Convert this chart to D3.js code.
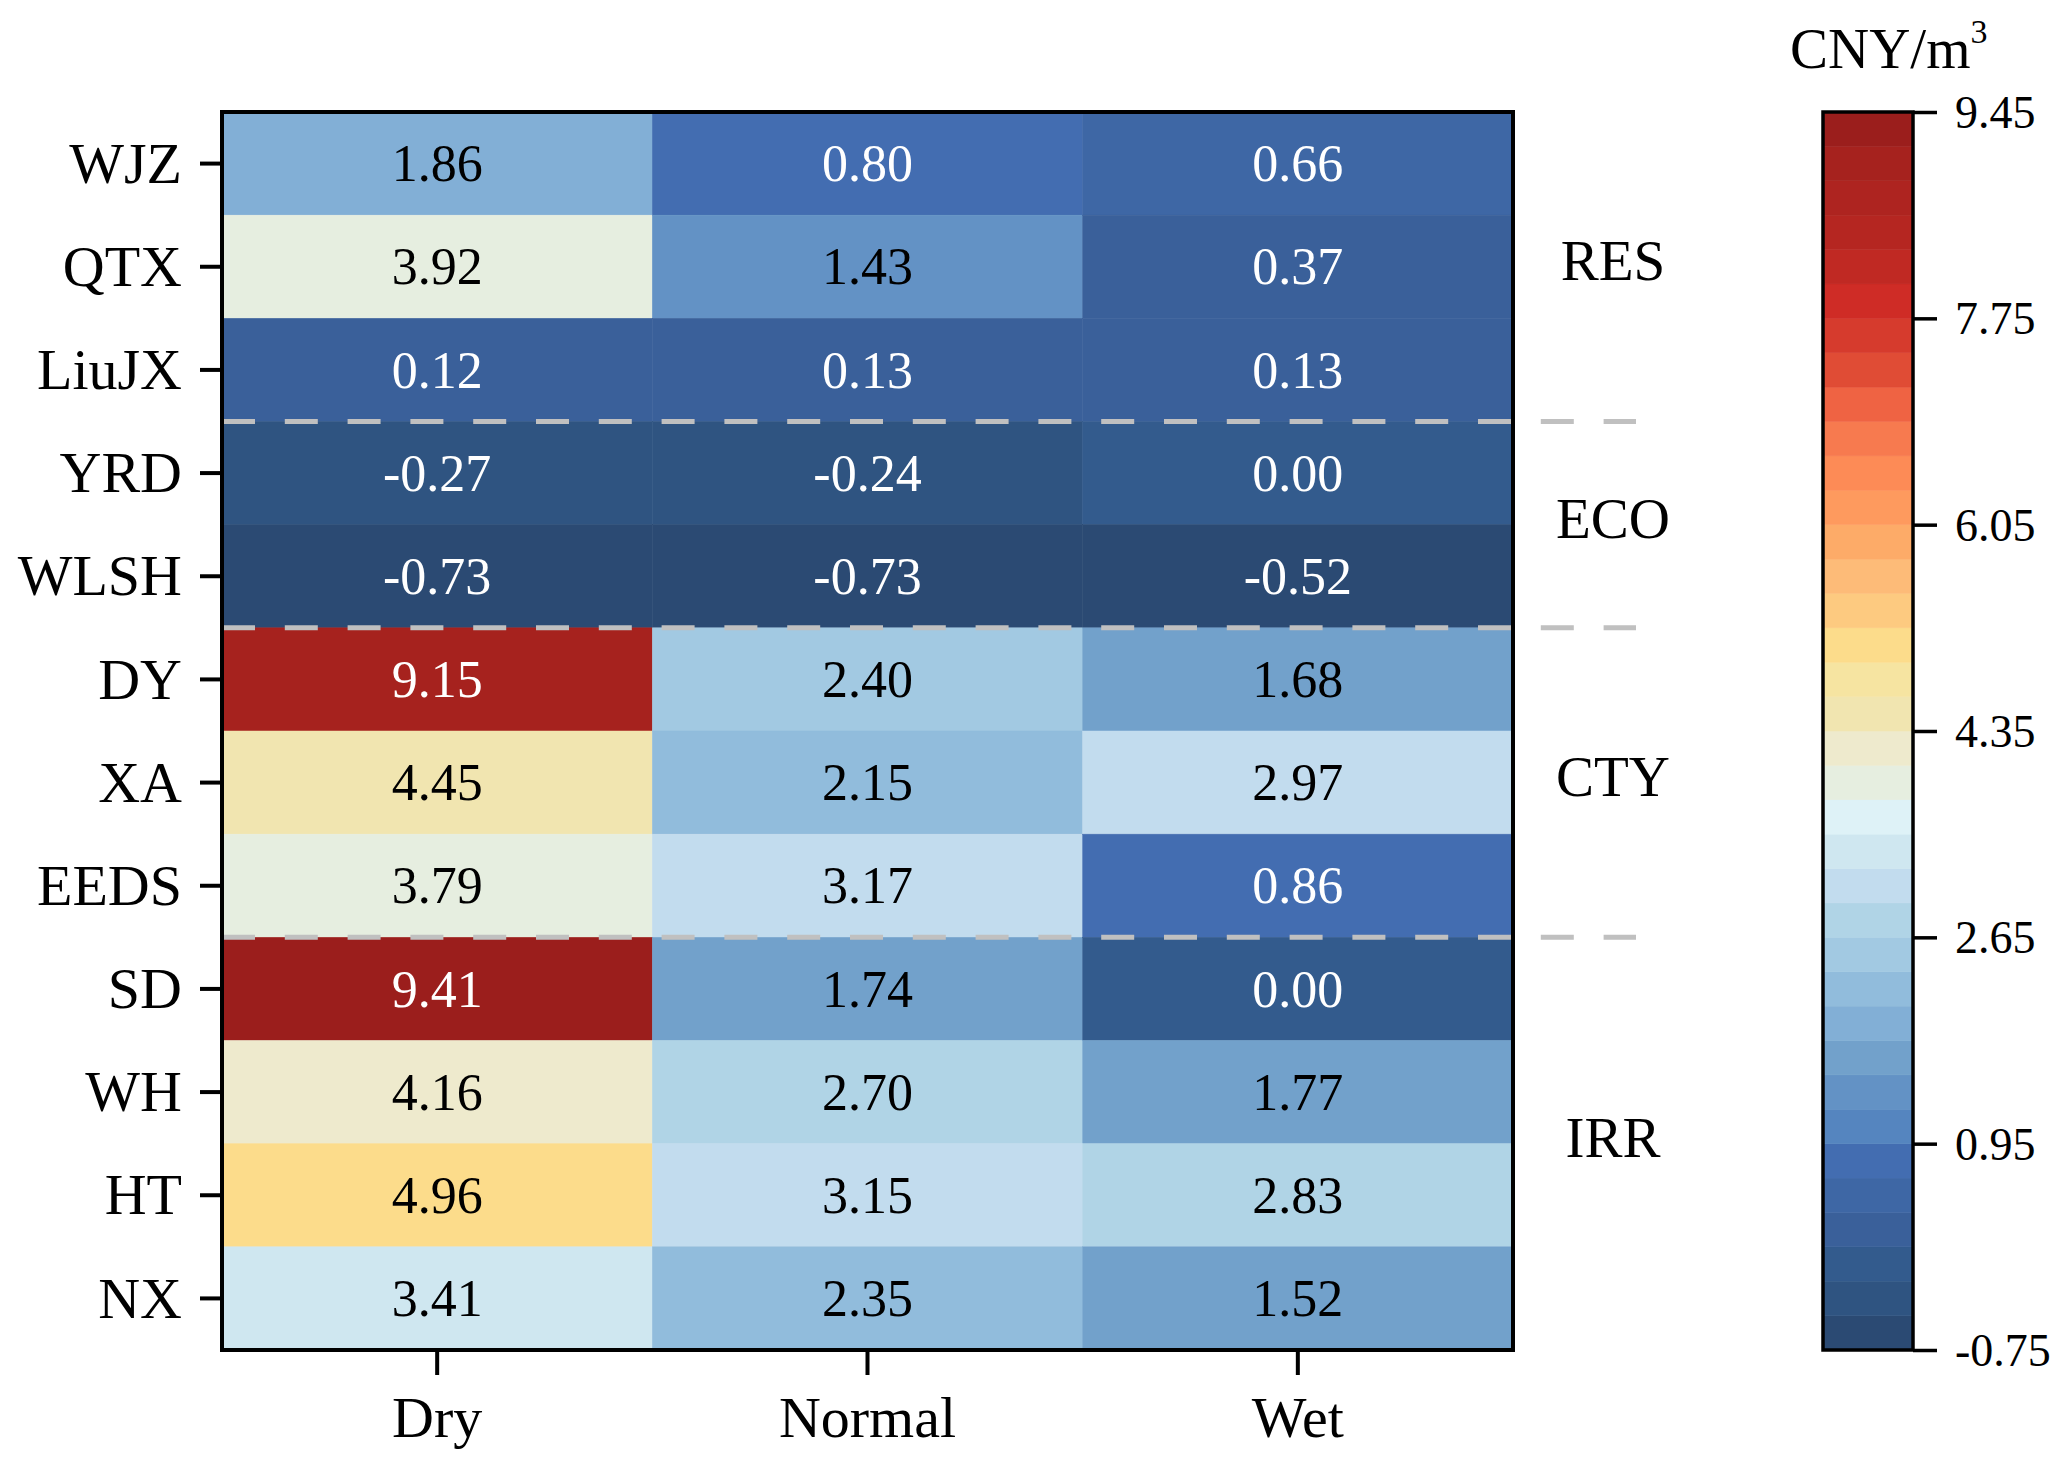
<!DOCTYPE html>
<html>
<head>
<meta charset="utf-8">
<script src="https://cdn.jsdelivr.net/npm/d3@7"></script>
<style>
  body { margin: 0; background: #fff; }
  text { font-family: "Liberation Serif", "Times New Roman", serif; }
</style>
</head>
<body>
<svg width="2067" height="1467"></svg>
<script>
const sites = ['WJZ', 'QTX', 'LiuJX', 'YRD', 'WLSH', 'DY', 'XA', 'EEDS', 'SD', 'WH', 'HT', 'NX'];
const years = ['Dry', 'Normal', 'Wet'];
const dry    = [1.86, 3.92, 0.12, -0.27, -0.73, 9.15, 4.45, 3.79, 9.41, 4.16, 4.96, 3.41];
const normal = [0.80, 1.43, 0.13, -0.24, -0.73, 2.40, 2.15, 3.17, 1.74, 2.70, 3.15, 2.35];
const wet    = [0.66, 0.37, 0.13, 0.00, -0.52, 1.68, 2.97, 0.86, 0.00, 1.77, 2.83, 1.52];
const groups = [
  { name: 'RES', from: 'WJZ', to: 'LiuJX' },
  { name: 'ECO', from: 'YRD', to: 'WLSH' },
  { name: 'CTY', from: 'DY', to: 'EEDS' },
  { name: 'IRR', from: 'SD', to: 'NX' }
];
const cbTicks = [-0.75, 0.95, 2.65, 4.35, 6.05, 7.75, 9.45];

// 36 discrete colour levels, low -> high
const bandColors = [
  '#2b4a73', '#2f5481', '#335b8d', '#3a609a', '#3e67a5', '#436db1',
  '#5585bf', '#6392c5', '#72a1cb', '#82afd6', '#91bcdc', '#a2c9e2',
  '#b0d4e6', '#c2dcee', '#cfe7f0', '#def2f7', '#e6eee0', '#eeeacd',
  '#f1e5b0', '#f6e4a1', '#fcdc8b', '#fdca80', '#fdbb78', '#fdab68',
  '#fe9a5e', '#fd8b56', '#f77a4f', '#ef6343', '#e04c35', '#d63b2d',
  '#cf2c26', '#c02923', '#b52621', '#ae2420', '#a6221e', '#9b1e1c'
];

const svg = d3.select('svg');
const margin = { top: 112, left: 222 };
const innerWidth = 1291;
const innerHeight = 1238;

const cells = [];
sites.forEach((s, i) => {
  [dry, normal, wet].forEach((arr, j) => {
    cells.push({ site: s, year: years[j], value: arr[i] });
  });
});

const fmt = v => v.toFixed(2);   // plain hyphen for negatives, like the original

const xscale = d3.scaleBand().domain(years).range([0, innerWidth]);
const yscale = d3.scaleBand().domain(sites).range([0, innerHeight]);
const color = d3.scaleQuantize().domain([-0.75, 9.45]).range(bandColors);

const g = svg.append('g')
  .attr('transform', `translate(${margin.left},${margin.top})`);

g.selectAll('rect.cell').data(cells)
  .enter().append('rect')
    .attr('class', 'cell')
    .attr('x', d => xscale(d.year))
    .attr('y', d => yscale(d.site))
    .attr('width', xscale.bandwidth())
    .attr('height', yscale.bandwidth())
    .attr('fill', d => color(d.value))
    .attr('stroke', d => color(d.value))
    .attr('stroke-width', 0.5);

g.selectAll('text.val').data(cells)
  .enter().append('text')
    .attr('class', 'val')
    .attr('x', d => xscale(d.year) + xscale.bandwidth() / 2)
    .attr('y', d => yscale(d.site) + yscale.bandwidth() / 2)
    .attr('dy', '0.34em')
    .attr('text-anchor', 'middle')
    .attr('font-size', 52)
    .attr('fill', d => (d.value < 1 || d.value > 8) ? '#fff' : '#000')
    .text(d => fmt(d.value));

// group separators
const sepY = groups.slice(1).map(gr => yscale(gr.from));
g.selectAll('line.sep').data(sepY)
  .enter().append('line')
    .attr('class', 'sep')
    .attr('x1', 0)
    .attr('x2', 1414)
    .attr('y1', d => d)
    .attr('y2', d => d)
    .attr('stroke', '#c0c0c0')
    .attr('stroke-width', 5)
    .attr('stroke-dasharray', '33,29.8');

// border
g.append('rect')
  .attr('width', innerWidth)
  .attr('height', innerHeight)
  .attr('fill', 'none')
  .attr('stroke', '#000')
  .attr('stroke-width', 4);

// axes
const yAxis = g.append('g')
  .call(d3.axisLeft(yscale).tickSize(22).tickPadding(18));
yAxis.select('.domain').remove();
yAxis.selectAll('line').attr('stroke-width', 4);
yAxis.selectAll('text')
  .attr('font-size', 58)
  .attr('font-family', '"Liberation Serif", serif')
  .attr('fill', '#000')
  .attr('dy', '0.33em');

const xAxis = g.append('g')
  .attr('transform', `translate(0,${innerHeight})`)
  .call(d3.axisBottom(xscale).tickSize(25));
xAxis.select('.domain').remove();
xAxis.selectAll('line').attr('stroke-width', 4);
xAxis.selectAll('text')
  .attr('font-size', 58)
  .attr('font-family', '"Liberation Serif", serif')
  .attr('fill', '#000')
  .attr('y', 87)
  .attr('dy', 0);

// group labels
g.selectAll('text.grp').data(groups)
  .enter().append('text')
    .attr('class', 'grp')
    .attr('x', 1391)
    .attr('y', d => (yscale(d.from) + yscale(d.to) + yscale.bandwidth()) / 2)
    .attr('dy', '0.24em')
    .attr('text-anchor', 'middle')
    .attr('font-size', 57)
    .text(d => d.name);

// colorbar
const cbX = 1823, cbW = 90;
const cscale = d3.scaleLinear().domain([-0.75, 9.45]).range([1350, 112]);
const step = (9.45 + 0.75) / bandColors.length;
const cb = svg.append('g');
cb.selectAll('rect.band').data(bandColors)
  .enter().append('rect')
    .attr('class', 'band')
    .attr('x', cbX)
    .attr('y', (d, i) => cscale(-0.75 + (i + 1) * step))
    .attr('width', cbW)
    .attr('height', (d, i) => cscale(-0.75 + i * step) - cscale(-0.75 + (i + 1) * step))
    .attr('fill', d => d)
    .attr('stroke', d => d)
    .attr('stroke-width', 0.5);
cb.append('rect')
  .attr('x', cbX).attr('y', 112)
  .attr('width', cbW).attr('height', 1238)
  .attr('fill', 'none')
  .attr('stroke', '#000')
  .attr('stroke-width', 3.5);

const cbAxis = cb.append('g')
  .attr('transform', `translate(${cbX + cbW},0)`)
  .call(d3.axisRight(cscale).tickValues(cbTicks).tickFormat(fmt).tickSize(24).tickPadding(18));
cbAxis.select('.domain').remove();
cbAxis.selectAll('line').attr('stroke-width', 3.5);
cbAxis.selectAll('text')
  .attr('font-size', 46)
  .attr('font-family', '"Liberation Serif", serif')
  .attr('fill', '#000')
  .attr('dy', '0.34em');

const title = svg.append('text')
  .attr('x', 1790)
  .attr('y', 68)
  .attr('font-size', 57);
title.append('tspan').text('CNY/m');
title.append('tspan').attr('font-size', 34).attr('dy', -25).text('3');
</script>
</body>
</html>
